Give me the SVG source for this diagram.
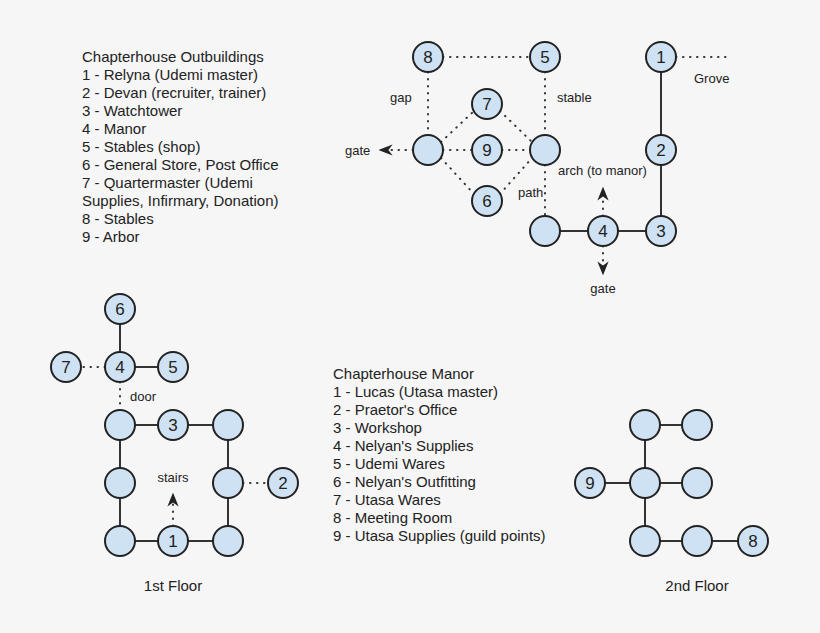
<svg xmlns="http://www.w3.org/2000/svg" width="820" height="633" viewBox="0 0 820 633">
<style>
.n{fill:#cfe2f3;stroke:#222;stroke-width:2}
.s{stroke:#333;stroke-width:2;fill:none}
.d{stroke:#333;stroke-width:2;fill:none;stroke-dasharray:0.5 6.5;stroke-linecap:round}
text{font-family:"Liberation Sans",Arial,sans-serif;fill:#222}
.l{font-size:15px}
.c{font-size:17px;text-anchor:middle}
.m{font-size:13px;fill:#333}
</style>
<defs><marker id="a" viewBox="0 0 10 10" refX="9" refY="5" markerWidth="7" markerHeight="7" orient="auto"><path d="M0,1 L10,5 L0,9 L3,5 z" fill="#222"/></marker></defs>
<rect width="820" height="633" fill="#f6f6f6"/>
<g id="connectors">
<path class="d" d="M443,57H530M428,72V135M545,72V135M676,57H732M443,150H472M502,150H530M441,142L474,111M500,111L532,142M441,158L474,194M500,194L532,158M545,165V216"/>
<path class="s" d="M661,72V135M661,165V216M560,231H588M618,231H646"/>
<path class="d" d="M413,150H380" marker-end="url(#a)"/>
<path class="d" d="M603,216V188" marker-end="url(#a)"/>
<path class="d" d="M603,246V274" marker-end="url(#a)"/>
<path class="s" d="M120,324V352M135,367H158M120,440V468M120,498V526M135,425H158M188,425H213M135,541H158M188,541H213M228,440V468M228,498V526M645,440V468M645,498V526M660,425H682M605,483H630M660,483H682M660,541H682M712,541H738"/>
<path class="d" d="M105,367H81M120,382V410M243,483H268"/>
<path class="d" d="M173,526V494" marker-end="url(#a)"/>
</g>
<g class="l">
<text x="82" y="62">Chapterhouse Outbuildings</text>
<text x="82" y="80">1 - Relyna (Udemi master)</text>
<text x="82" y="98">2 - Devan (recruiter, trainer)</text>
<text x="82" y="116">3 - Watchtower</text>
<text x="82" y="134">4 - Manor</text>
<text x="82" y="152">5 - Stables (shop)</text>
<text x="82" y="170">6 - General Store, Post Office</text>
<text x="82" y="188">7 - Quartermaster (Udemi</text>
<text x="82" y="206">Supplies, Infirmary, Donation)</text>
<text x="82" y="224">8 - Stables</text>
<text x="82" y="242">9 - Arbor</text>
<text x="333" y="379">Chapterhouse Manor</text>
<text x="333" y="397">1 - Lucas (Utasa master)</text>
<text x="333" y="415">2 - Praetor's Office</text>
<text x="333" y="433">3 - Workshop</text>
<text x="333" y="451">4 - Nelyan's Supplies</text>
<text x="333" y="469">5 - Udemi Wares</text>
<text x="333" y="487">6 - Nelyan's Outfitting</text>
<text x="333" y="505">7 - Utasa Wares</text>
<text x="333" y="523">8 - Meeting Room</text>
<text x="333" y="541">9 - Utasa Supplies (guild points)</text>
<text x="173" y="591" text-anchor="middle">1st Floor</text>
<text x="697" y="591" text-anchor="middle">2nd Floor</text>
</g>
<g class="m">
<text x="390" y="102">gap</text>
<text x="557" y="102">stable</text>
<text x="694" y="83">Grove</text>
<text x="345" y="155">gate</text>
<text x="558" y="175">arch (to manor)</text>
<text x="518" y="197">path</text>
<text x="603" y="293" text-anchor="middle">gate</text>
<text x="130" y="401">door</text>
<text x="173" y="482" text-anchor="middle">stairs</text>
</g>
<g id="o8"><circle class="n" cx="428" cy="57" r="15"/><text class="c" x="428" y="63">8</text></g>
<g id="o5"><circle class="n" cx="545" cy="57" r="15"/><text class="c" x="545" y="63">5</text></g>
<g id="o1"><circle class="n" cx="661" cy="57" r="15"/><text class="c" x="661" y="63">1</text></g>
<g id="o7"><circle class="n" cx="487" cy="104" r="15"/><text class="c" x="487" y="110">7</text></g>
<g id="oL"><circle class="n" cx="428" cy="150" r="15"/></g>
<g id="o9"><circle class="n" cx="487" cy="150" r="15"/><text class="c" x="487" y="156">9</text></g>
<g id="oR"><circle class="n" cx="545" cy="150" r="15"/></g>
<g id="o2"><circle class="n" cx="661" cy="150" r="15"/><text class="c" x="661" y="156">2</text></g>
<g id="o6"><circle class="n" cx="487" cy="201" r="15"/><text class="c" x="487" y="207">6</text></g>
<g id="oB"><circle class="n" cx="545" cy="231" r="15"/></g>
<g id="o4"><circle class="n" cx="603" cy="231" r="15"/><text class="c" x="603" y="237">4</text></g>
<g id="o3"><circle class="n" cx="661" cy="231" r="15"/><text class="c" x="661" y="237">3</text></g>
<g id="f6"><circle class="n" cx="120" cy="309" r="15"/><text class="c" x="120" y="315">6</text></g>
<g id="f7"><circle class="n" cx="66" cy="367" r="15"/><text class="c" x="66" y="373">7</text></g>
<g id="f4"><circle class="n" cx="120" cy="367" r="15"/><text class="c" x="120" y="373">4</text></g>
<g id="f5"><circle class="n" cx="173" cy="367" r="15"/><text class="c" x="173" y="373">5</text></g>
<g id="fa"><circle class="n" cx="120" cy="425" r="15"/></g>
<g id="f3"><circle class="n" cx="173" cy="425" r="15"/><text class="c" x="173" y="431">3</text></g>
<g id="fb"><circle class="n" cx="228" cy="425" r="15"/></g>
<g id="fc"><circle class="n" cx="120" cy="483" r="15"/></g>
<g id="fd"><circle class="n" cx="228" cy="483" r="15"/></g>
<g id="f2"><circle class="n" cx="283" cy="483" r="15"/><text class="c" x="283" y="489">2</text></g>
<g id="fe"><circle class="n" cx="120" cy="541" r="15"/></g>
<g id="f1"><circle class="n" cx="173" cy="541" r="15"/><text class="c" x="173" y="547">1</text></g>
<g id="ff"><circle class="n" cx="228" cy="541" r="15"/></g>
<g id="sa"><circle class="n" cx="645" cy="425" r="15"/></g>
<g id="sb"><circle class="n" cx="697" cy="425" r="15"/></g>
<g id="s9"><circle class="n" cx="590" cy="483" r="15"/><text class="c" x="590" y="489">9</text></g>
<g id="sc"><circle class="n" cx="645" cy="483" r="15"/></g>
<g id="sd"><circle class="n" cx="697" cy="483" r="15"/></g>
<g id="se"><circle class="n" cx="645" cy="541" r="15"/></g>
<g id="sf"><circle class="n" cx="697" cy="541" r="15"/></g>
<g id="s8"><circle class="n" cx="753" cy="541" r="15"/><text class="c" x="753" y="547">8</text></g>
</svg>
